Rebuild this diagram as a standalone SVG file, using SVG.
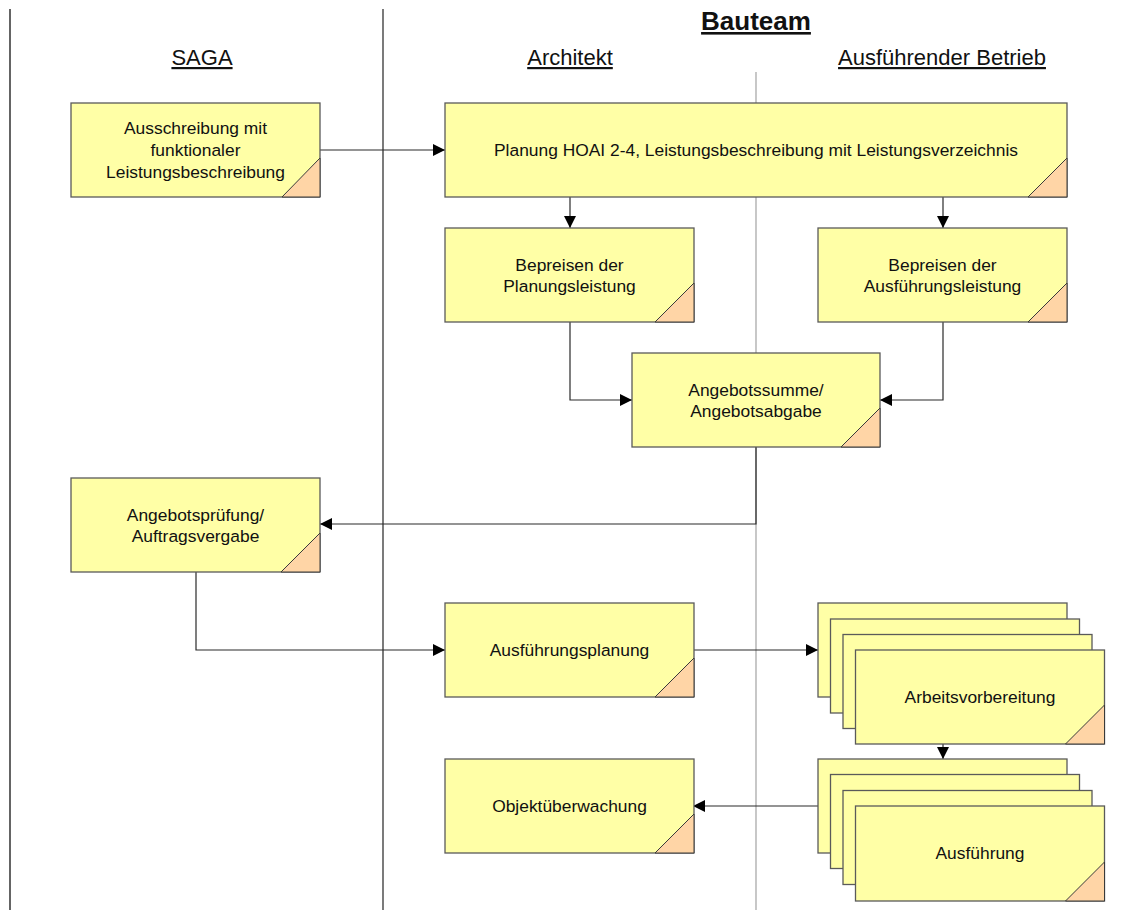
<svg xmlns="http://www.w3.org/2000/svg" width="1121" height="910" viewBox="0 0 1121 910">
  <style>
    .box { fill: #ffffa6; stroke: #5a5a5a; stroke-width: 1.3; }
    .tab { fill: #ffd5a6; stroke: #3a3a3a; stroke-width: 1; }
    .lbl { font-family: "Liberation Sans", Arial, sans-serif; font-size: 17.4px; fill: #111; text-anchor: middle; }
    .hdr { font-family: "Liberation Sans", Arial, sans-serif; font-size: 22px; fill: #111; text-anchor: middle; text-decoration: underline; }
    .ttl { font-family: "Liberation Sans", Arial, sans-serif; font-size: 26px; font-weight: bold; fill: #111; text-anchor: middle; text-decoration: underline; }
    .conn { fill: none; stroke: #2a2a2a; stroke-width: 1.2; }
  </style>
  <defs>
    <marker id="arrow" markerUnits="userSpaceOnUse" markerWidth="13" markerHeight="13" refX="12" refY="6" orient="auto">
      <path d="M0,0 L12,6 L0,12 z" fill="#000"/>
    </marker>
  </defs>
  <rect width="1121" height="910" fill="#fff"/>

  <!-- swimlane dividers -->
  <g id="lanes">
    <line x1="10" y1="9" x2="10" y2="910" stroke="#111" stroke-width="1.3"/>
    <line x1="383" y1="9" x2="383" y2="910" stroke="#333" stroke-width="1.3"/>
    <line x1="756" y1="72" x2="756" y2="910" stroke="#aaa" stroke-width="1.3"/>
  </g>

  <!-- lane headings -->
  <g id="headings">
    <text class="ttl" x="756" y="30">Bauteam</text>
    <text class="hdr" x="202" y="65">SAGA</text>
    <text class="hdr" x="570" y="65">Architekt</text>
    <text class="hdr" x="942" y="65">Ausführender Betrieb</text>
  </g>

  <!-- connectors -->
  <g id="connectors">
    <path class="conn" d="M320,150 H445" marker-end="url(#arrow)"/>
    <path class="conn" d="M570,197 V228" marker-end="url(#arrow)"/>
    <path class="conn" d="M943,197 V228" marker-end="url(#arrow)"/>
    <path class="conn" d="M570,322 V400 H632" marker-end="url(#arrow)"/>
    <path class="conn" d="M943,322 V400 H880" marker-end="url(#arrow)"/>
    <path class="conn" d="M756,447 V524 H320" marker-end="url(#arrow)"/>
    <path class="conn" d="M196,572 V650 H445" marker-end="url(#arrow)"/>
    <path class="conn" d="M693,650 H818" marker-end="url(#arrow)"/>
    <path class="conn" d="M943,744 V759" marker-end="url(#arrow)"/>
    <path class="conn" d="M818,806 H693" marker-end="url(#arrow)"/>
  </g>

  <g id="ausschreibung">
    <rect class="box" x="71" y="103" width="249" height="94"/>
    <path class="tab" d="M282,197 L320,158 L320,197 z"/>
    <text class="lbl" x="195.5" y="134">Ausschreibung mit</text>
    <text class="lbl" x="195.5" y="156">funktionaler</text>
    <text class="lbl" x="195.5" y="178">Leistungsbeschreibung</text>
  </g>

  <g id="planung">
    <rect class="box" x="445" y="103" width="622" height="94"/>
    <path class="tab" d="M1028,197 L1067,158 L1067,197 z"/>
    <text class="lbl" x="756" y="156">Planung HOAI 2-4, Leistungsbeschreibung mit Leistungsverzeichnis</text>
  </g>

  <g id="bepreisen-planung">
    <rect class="box" x="445" y="228" width="249" height="94"/>
    <path class="tab" d="M655,322 L694,283 L694,322 z"/>
    <text class="lbl" x="569.5" y="270.5">Bepreisen der</text>
    <text class="lbl" x="569.5" y="291.5">Planungsleistung</text>
  </g>

  <g id="bepreisen-ausfuehrung">
    <rect class="box" x="818" y="228" width="249" height="94"/>
    <path class="tab" d="M1028,322 L1067,283 L1067,322 z"/>
    <text class="lbl" x="942.5" y="270.5">Bepreisen der</text>
    <text class="lbl" x="942.5" y="291.5">Ausführungsleistung</text>
  </g>

  <g id="angebotssumme">
    <rect class="box" x="632" y="353" width="248" height="94"/>
    <path class="tab" d="M841,447 L880,408 L880,447 z"/>
    <text class="lbl" x="756" y="395.5">Angebotssumme/</text>
    <text class="lbl" x="756" y="416.5">Angebotsabgabe</text>
  </g>

  <g id="angebotspruefung">
    <rect class="box" x="71" y="478" width="249" height="94"/>
    <path class="tab" d="M281,572 L320,533 L320,572 z"/>
    <text class="lbl" x="195.5" y="521">Angebotsprüfung/</text>
    <text class="lbl" x="195.5" y="542">Auftragsvergabe</text>
  </g>

  <g id="ausfuehrungsplanung">
    <rect class="box" x="445" y="603" width="249" height="94"/>
    <path class="tab" d="M655,697 L694,658 L694,697 z"/>
    <text class="lbl" x="569.5" y="656">Ausführungsplanung</text>
  </g>

  <g id="arbeitsvorbereitung">
    <rect class="box" x="818" y="603" width="249" height="94"/>
    <rect class="box" x="830.5" y="619" width="249" height="94"/>
    <rect class="box" x="843" y="634.5" width="249" height="94"/>
    <rect class="box" x="855.5" y="650" width="249" height="94"/>
    <path class="tab" d="M1065.5,744 L1104.5,705 L1104.5,744 z"/>
    <text class="lbl" x="980" y="703">Arbeitsvorbereitung</text>
  </g>

  <g id="objektueberwachung">
    <rect class="box" x="445" y="759" width="249" height="94"/>
    <path class="tab" d="M655,853 L694,814 L694,853 z"/>
    <text class="lbl" x="569.5" y="812">Objektüberwachung</text>
  </g>

  <g id="ausfuehrung">
    <rect class="box" x="818" y="759" width="249" height="94"/>
    <rect class="box" x="830.5" y="774.5" width="249" height="94"/>
    <rect class="box" x="843" y="790.5" width="249" height="94"/>
    <rect class="box" x="855.5" y="806" width="249" height="95"/>
    <path class="tab" d="M1065.5,901 L1104.5,862 L1104.5,901 z"/>
    <text class="lbl" x="980" y="859">Ausführung</text>
  </g>
</svg>
